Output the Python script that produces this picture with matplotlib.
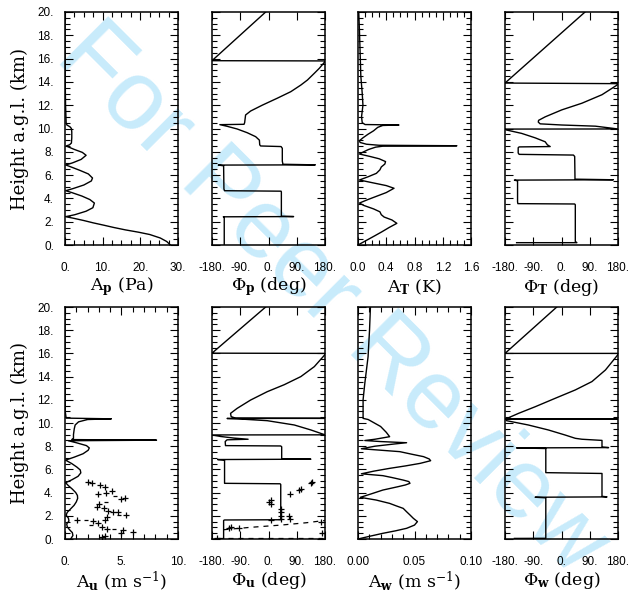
import matplotlib
matplotlib.use("Agg")
import matplotlib.pyplot as plt
from matplotlib.ticker import MultipleLocator, FuncFormatter

plt.rcParams['font.family'] = ['Liberation Sans', 'DejaVu Sans']
plt.rcParams['mathtext.fontset'] = 'dejavuserif'

# ---------------- amplitude profiles (height km -> value) ----------------
ap_z = [0.0, 0.3, 0.6, 0.9, 1.1, 1.3, 1.5, 1.7, 1.9, 2.1, 2.3, 2.43, 2.6, 2.9, 3.2, 3.6,
        3.9, 4.2, 4.5, 4.66, 4.85, 5.15, 5.5, 5.75, 6.1, 6.4, 6.7, 6.87, 7.05, 7.35, 7.7,
        7.95, 8.2, 8.5, 8.6, 8.75, 9.2, 9.7, 10.0, 10.15, 10.3, 10.5, 11.0, 12.0, 13.5, 15.0, 20.0]
ap_v = [28.0, 27.0, 25.3, 22.5, 19.5, 16.0, 13.0, 10.3, 7.5, 5.0, 2.2, 0.2, 2.6, 5.6, 7.4, 7.8,
        6.6, 4.5, 1.8, 0.2, 2.2, 5.0, 7.0, 7.3, 6.2, 4.0, 1.6, 0.2, 2.0, 4.3, 5.6,
        4.6, 2.5, 0.3, 1.2, 1.7, 1.8, 1.8, 1.7, 1.3, 0.5, 0.3, 0.25, 0.15, 0.08, 0.03, 0.0]

at_z = [0.0, 0.4, 0.8, 1.14, 1.5, 1.86, 2.15, 2.4, 2.6, 2.85, 3.1, 3.4, 3.6, 3.9, 4.2, 4.5,
        4.87, 5.1, 5.35, 5.58, 5.85, 6.15, 6.45, 6.7, 6.95, 7.16, 7.4, 7.6, 7.81, 8.0, 8.2,
        8.4, 8.48, 8.52, 8.56, 8.65, 8.8, 8.95, 9.2, 9.5, 9.8, 10.1, 10.26, 10.3, 10.34,
        10.5, 11.0, 12.0, 13.0, 14.5, 16.5, 18.5, 20.0]
at_v = [0.0, 0.12, 0.24, 0.34, 0.44, 0.55, 0.48, 0.37, 0.33, 0.31, 0.22, 0.08, 0.02, 0.14, 0.27, 0.4,
        0.51, 0.4, 0.2, 0.02, 0.14, 0.26, 0.31, 0.33, 0.38, 0.39, 0.3, 0.17, 0.02, 0.08, 0.15,
        0.25, 0.35, 1.40, 0.3, 0.12, 0.03, 0.02, 0.07, 0.14, 0.22, 0.28, 0.35, 0.58, 0.1,
        0.06, 0.05, 0.07, 0.06, 0.04, 0.03, 0.02, 0.01]

au_z = [0.0, 0.3, 0.55, 0.8, 1.05, 1.3, 1.55, 1.8, 2.05, 2.3, 2.6, 2.9, 3.2, 3.5, 3.75, 4.0,
        4.3, 4.6, 4.85, 5.1, 5.4, 5.7, 5.95, 6.2, 6.5, 6.8, 7.05, 7.35, 7.65, 7.85, 8.05,
        8.3, 8.47, 8.52, 8.57, 8.68, 9.0, 9.5, 9.83, 10.1, 10.3, 10.36, 10.42, 11.0, 20.0]
au_v = [0.5, 0.7, 0.65, 0.4, 0.2, 0.15, 0.35, 0.3, 0.1, 0.2, 0.5, 0.8, 1.0, 1.12, 1.1, 0.95,
        0.65, 0.3, 0.05, 0.6, 1.15, 1.4, 1.35, 1.05, 0.6, 0.05, 0.8, 1.6, 2.05, 2.15, 1.9,
        1.0, 0.3, 8.1, 0.6, 0.75, 0.75, 0.82, 0.9, 1.2, 2.0, 4.1, 0.1, 0.02, 0.0]

aw_z = [0.0, 0.25, 0.49, 0.7, 0.92, 1.2, 1.5, 1.78, 2.07, 2.35, 2.64, 2.85, 3.07, 3.36, 3.59,
        3.9, 4.22, 4.5, 4.66, 4.8, 4.95, 5.08, 5.3, 5.46, 5.62, 5.85, 6.09, 6.3, 6.52, 6.75,
        6.9, 7.1, 7.3, 7.53, 7.78, 8.0, 8.2, 8.3, 8.4, 8.49, 8.6, 8.82, 9.2, 9.7, 10.3, 10.4,
        10.7, 12.0, 13.4, 15.7, 18.0, 20.0]
aw_v = [0.0, 0.011, 0.022, 0.033, 0.043, 0.05, 0.0526, 0.049, 0.046, 0.043, 0.04, 0.034, 0.028,
        0.016, 0.002, 0.012, 0.022, 0.035, 0.042, 0.046, 0.045, 0.04, 0.03, 0.022, 0.003, 0.014,
        0.028, 0.042, 0.055, 0.0643, 0.063, 0.058, 0.048, 0.037, 0.003, 0.015, 0.033, 0.043,
        0.02, 0.006, 0.015, 0.028, 0.025, 0.02, 0.009, 0.0045, 0.0045, 0.0045, 0.006, 0.0089,
        0.0102, 0.011]

# ---------------- phase profiles (deg, height km) ----------------
pp_phi = [-141, -141, -144, 80, 41, 41, 40, -140, -142, -143, -160, 149, 46, 44, 44, 40, -25,
          -28, -29, -41, -68, -100, -132, -155, -78, -76, -73, -57, -20, 28, 71, 103, 124, 146,
          162, 178, 180, -180, -9]
pp_z = [0.0, 2.40, 2.42, 2.44, 2.47, 4.55, 4.62, 4.66, 4.8, 6.8, 6.86, 6.88, 6.93, 7.2, 8.3,
        8.45, 8.5, 8.6, 9.0, 9.3, 9.64, 9.96, 10.19, 10.33, 10.36, 10.5, 11.16, 11.5, 12.0,
        12.6, 13.16, 13.73, 14.16, 14.74, 15.17, 15.68, 15.8, 15.82, 20.0]

pt_phi = [-143, 49, 44, 44, 42, -139, -140, -140, -150, 165, 43, 42, 38, -135, -138, -138, -135,
          -36, -45, -52, -84, -127, -175, -180, 180, 108, 1, -68, -74, -73, -52, 1, 65, 129,
          177, 180, -180, 75]
pt_z = [0.2, 0.2, 0.3, 3.45, 3.52, 3.55, 3.7, 5.5, 5.57, 5.6, 5.65, 7.6, 7.72, 7.78, 7.9,
        8.35, 8.42, 8.45, 8.6, 8.86, 9.2, 9.58, 9.87, 9.95, 9.96, 10.2, 10.3, 10.4, 10.55,
        10.7, 11.0, 11.6, 12.17, 12.9, 13.73, 13.85, 13.9, 20.0]

pu_phi = [-143, -143, -140, 39, 39, 37, -140, -140, -162, 135, 42, 42, 39, -137, -138, -132,
          -65, -110, -153, -180, 180, 135, 82, -4, -100, -132, 180, -105, -119, -121, -100, -57,
          -4, 50, 103, 146, 180, 180, -180, -9]
pu_z = [0.0, 1.6, 1.64, 1.66, 4.7, 4.76, 4.8, 6.8, 6.85, 6.88, 6.92, 7.95, 8.02, 8.05, 8.4,
        8.55, 8.6, 8.7, 8.84, 8.97, 8.98, 9.4, 9.83, 10.2, 10.36, 10.39, 10.40, 10.42, 10.55,
        10.83, 11.26, 11.98, 12.7, 13.3, 14.0, 14.86, 15.9, 16.0, 16.02, 20.0]

pw_phi = [-150, -50, -50, -84, 145, 129, 129, -50, -50, -143, 150, 129, 129, 65, 44, 12, -42,
          -106, -175, -178, 180, -180, -169, -137, -84, -20, 44, 97, 140, 180, 180, -180, -15]
pw_z = [0.05, 0.06, 3.55, 3.6, 3.63, 3.68, 5.65, 5.72, 7.8, 7.85, 7.88, 7.93, 8.5, 8.6, 8.68,
        8.96, 9.4, 9.83, 10.2, 10.32, 10.33, 10.36, 10.45, 10.83, 11.4, 12.13, 12.85, 13.57,
        14.57, 15.9, 16.0, 16.0, 20.0]

# observations (wind) plotted as crosses, secondary fit dashed
obs_au_v = [2.06, 2.41, 3.09, 3.53, 4.18, 2.94, 3.59, 5.0, 5.3, 2.79, 3.03, 3.47, 3.82, 4.26,
            4.7, 5.44, 3.68, 3.53, 1.03, 2.5, 2.94, 3.24, 3.76, 5.15, 5.0, 6.03, 3.24, 3.53]
obs_au_z = [4.94, 4.86, 4.66, 4.5, 4.1, 3.85, 4.0, 3.45, 3.5, 2.79, 3.02, 2.66, 2.44, 2.3,
            2.35, 2.06, 1.86, 1.64, 1.64, 1.57, 1.35, 1.07, 0.83, 0.77, 0.54, 0.63, 0.2, 0.26]
dash_au_v = [4.4, 1.9, 4.3, 3.65, 4.8, 2.3]
dash_au_z = [3.75, 1.66, 0.85, 3.2, 2.1, 1.2]

obs_pu_phi = [-164, -127, -120, -95, 2, 7, 9, 39, 39, 39, 39, 7, 66, 69, 69, 98, 103, 135, 140,
              167, 172]
obs_pu_z = [0.1, 0.95, 1.05, 0.92, 3.22, 3.4, 3.04, 2.6, 2.3, 2.0, 1.73, 1.6, 2.0, 1.73, 3.88,
            4.2, 4.35, 4.85, 4.94, 1.5, 0.5]
fit_pu_phi = [-143, -60, 40, 120, 180]
fit_pu_z = [0.8, 1.0, 1.2, 1.4, 1.6]
fit2_pu_phi = [-160, 180]
fit2_pu_z = [0.12, 0.12]

fig = plt.figure(figsize=(6.31, 5.95), dpi=100)

lefts = [65, 212, 358, 505]
W, H = 631.0, 595.0
pw_ax = 113
rows = [(12, 245), (307, 539)]

fig.text(0.525, 0.495, 'For Peer Review', rotation=-45, fontsize=71, color='#c8ebfb',
         ha='center', va='center', zorder=-1, family=['Liberation Sans', 'DejaVu Sans'])


def make_axes(col, row):
    top, bot = rows[row]
    ax = fig.add_axes([lefts[col] / W, 1 - bot / H, pw_ax / W, (bot - top) / H])
    ax.set_facecolor('none')
    return ax


def style(ax, xlim, xmaj, xmin, fmt, ylabels):
    ax.set_xlim(*xlim)
    ax.set_ylim(0, 20)
    ax.xaxis.set_major_locator(MultipleLocator(xmaj))
    if xmin:
        ax.xaxis.set_minor_locator(MultipleLocator(xmin))
    ax.yaxis.set_major_locator(MultipleLocator(2))
    ax.yaxis.set_minor_locator(MultipleLocator(0.5))
    ax.xaxis.set_major_formatter(FuncFormatter(fmt))
    ax.yaxis.set_major_formatter(FuncFormatter(lambda v, p: f'{v:.0f}.'))
    ax.tick_params(which='both', direction='in', top=True, right=True, labelsize=8.5,
                   width=0.8, colors='black')
    ax.tick_params(which='major', length=6)
    ax.tick_params(which='minor', length=3.5)
    ax.tick_params(axis='x', pad=12)
    ax.tick_params(axis='y', pad=8, labelleft=ylabels)
    for s in ax.spines.values():
        s.set_linewidth(1.1)


def xlab(ax, txt):
    ax.text(0.5, -42 / 233, txt, transform=ax.transAxes, ha='center', va='center',
            fontsize=12.5, family='DejaVu Serif')


dot0 = lambda v, p: f'{v:.0f}.'
lw = 1.0

# top row
ax = make_axes(0, 0)
ax.plot(ap_v, ap_z, color='k', lw=lw)
style(ax, (0, 30), 10, 2.5, dot0, True)
xlab(ax, r'$\mathrm{A}_{\mathbf{p}}$ (Pa)')

ax = make_axes(1, 0)
ax.plot(pp_phi, pp_z, color='k', lw=lw)
style(ax, (-180, 180), 90, None, dot0, False)
xlab(ax, r'$\Phi_{\mathbf{p}}$ (deg)')

ax = make_axes(2, 0)
ax.plot(at_v, at_z, color='k', lw=lw)
style(ax, (0, 1.6), 0.4, 0.1, lambda v, p: f'{v:.1f}', False)
xlab(ax, r'$\mathrm{A}_{\mathbf{T}}$ (K)')

ax = make_axes(3, 0)
ax.plot(pt_phi, pt_z, color='k', lw=lw)
style(ax, (-180, 180), 90, None, dot0, False)
xlab(ax, r'$\Phi_{\mathbf{T}}$ (deg)')

# bottom row
ax = make_axes(0, 1)
ax.plot(au_v, au_z, color='k', lw=lw)
ax.plot(obs_au_v, obs_au_z, '+', color='k', ms=5, mew=0.9)
ax.plot(dash_au_v, dash_au_z, '_', color='k', ms=3, mew=0.9)
style(ax, (0, 10), 5, 1, dot0, True)
xlab(ax, r'$\mathrm{A}_{\mathbf{u}}$ (m s$^{-1}$)')

ax = make_axes(1, 1)
ax.plot(pu_phi, pu_z, color='k', lw=lw)
ax.plot(fit_pu_phi, fit_pu_z, color='k', lw=0.9, ls=(0, (4, 4)))
ax.plot(fit2_pu_phi, fit2_pu_z, color='k', lw=0.9, ls=(0, (4, 4)))
ax.plot(obs_pu_phi, obs_pu_z, '+', color='k', ms=5, mew=0.9)
style(ax, (-180, 180), 90, None, dot0, False)
xlab(ax, r'$\Phi_{\mathbf{u}}$ (deg)')

ax = make_axes(2, 1)
ax.plot(aw_v, aw_z, color='k', lw=lw)
style(ax, (0, 0.1), 0.05, 0.01, lambda v, p: f'{v:.2f}', False)
xlab(ax, r'$\mathrm{A}_{\mathbf{w}}$ (m s$^{-1}$)')

ax = make_axes(3, 1)
ax.plot(pw_phi, pw_z, color='k', lw=lw)
style(ax, (-180, 180), 90, None, dot0, False)
xlab(ax, r'$\Phi_{\mathbf{w}}$ (deg)')

for yc in [(12 + 245) / 2, (307 + 539) / 2]:
    fig.text(20 / W, 1 - yc / H, 'Height a.g.l. (km)', rotation=90, ha='center', va='center',
             fontsize=13, family='DejaVu Serif')

fig.savefig('out.png', dpi=100)
